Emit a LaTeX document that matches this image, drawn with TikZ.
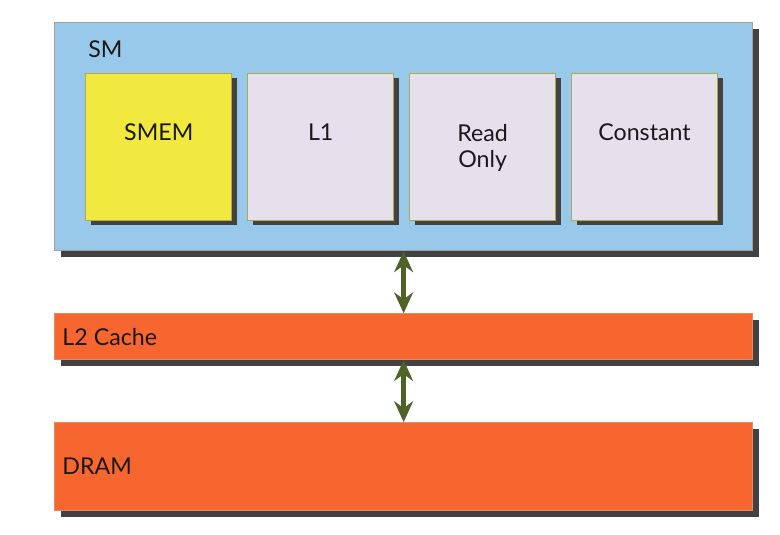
\documentclass[tikz,border=0pt]{standalone}
\usepackage{fontspec}
\setmainfont{Lato}
\usepackage{xcolor}
\usepackage{tikz}
\usetikzlibrary{arrows.meta,positioning,shadows}

\definecolor{smblue}{RGB}{152,201,234}
\definecolor{smedge}{RGB}{160,160,160}
\definecolor{cachefill}{RGB}{248,102,48}
\definecolor{cacheedge}{RGB}{222,142,96}
\definecolor{memfill}{RGB}{230,224,236}
\definecolor{smemfill}{RGB}{242,233,64}
\definecolor{memedge}{RGB}{176,170,72}
\definecolor{shadowgray}{RGB}{66,66,66}
\definecolor{linkgreen}{RGB}{79,98,40}

\begin{document}
\begin{tikzpicture}[
  node distance=1.55cm and 0.37cm,
  font=\fontsize{16.5}{18.5}\selectfont,
  smbox/.style={draw=smedge, line width=0.9pt, fill=smblue, minimum width=17.45cm, minimum height=5.7cm, inner sep=0pt, drop shadow={shadow xshift=0.15cm, shadow yshift=-0.15cm, fill=shadowgray, opacity=1}},
  cachebox/.style={draw=cacheedge, line width=0.6pt, fill=cachefill, minimum width=17.45cm, inner sep=0pt, drop shadow={shadow xshift=0.15cm, shadow yshift=-0.15cm, fill=shadowgray, opacity=1}},
  memblock/.style={draw=memedge, line width=0.8pt, fill=memfill, minimum width=3.65cm, minimum height=3.675cm, inner sep=0pt, drop shadow={shadow xshift=0.125cm, shadow yshift=-0.125cm, fill=shadowgray, opacity=1}},
  tag/.style={inner sep=0pt, align=center, text=black!90},
  biarrow/.style={{Stealth[length=0.52cm, width=0.47cm]}-{Stealth[length=0.52cm, width=0.47cm]}, line width=3.5pt, draw=linkgreen}
]
\useasboundingbox (0,0) rectangle (19.5,-13.35);

\node[smbox, anchor=north west] (sm) at (1.35,-0.55) {};
\node[tag, anchor=base west] (smtext) at ([xshift=0.85cm, yshift=-0.875cm]sm.north west) {SM};

\node[memblock, fill=smemfill, anchor=north west] (smem) at (2.13,-1.82) {};
\node[memblock, right=of smem] (l1) {};
\node[memblock, right=of l1] (ro) {};
\node[memblock, right=of ro] (const) {};

\node[tag, below=1.275cm of smem.north] (smemtext) {SMEM};
\node[tag, below=1.275cm of l1.north] (l1text) {L1};
\node[tag, below=1.275cm of ro.north] (rotext) {Read\\Only};
\node[tag, below=1.275cm of const.north] (consttext) {Constant};

\node[cachebox, minimum height=1.15cm, below=of sm] (l2) {};
\node[tag, right=0.2cm of l2.west] (l2text) {L2 Cache};

\node[cachebox, minimum height=2.2cm, below=of l2] (dram) {};
\node[tag, right=0.2cm of dram.west] (dramtext) {DRAM};

\draw[biarrow] (sm.south) -- (l2.north);
\draw[biarrow] (l2.south) -- (dram.north);
\end{tikzpicture}
\end{document}
